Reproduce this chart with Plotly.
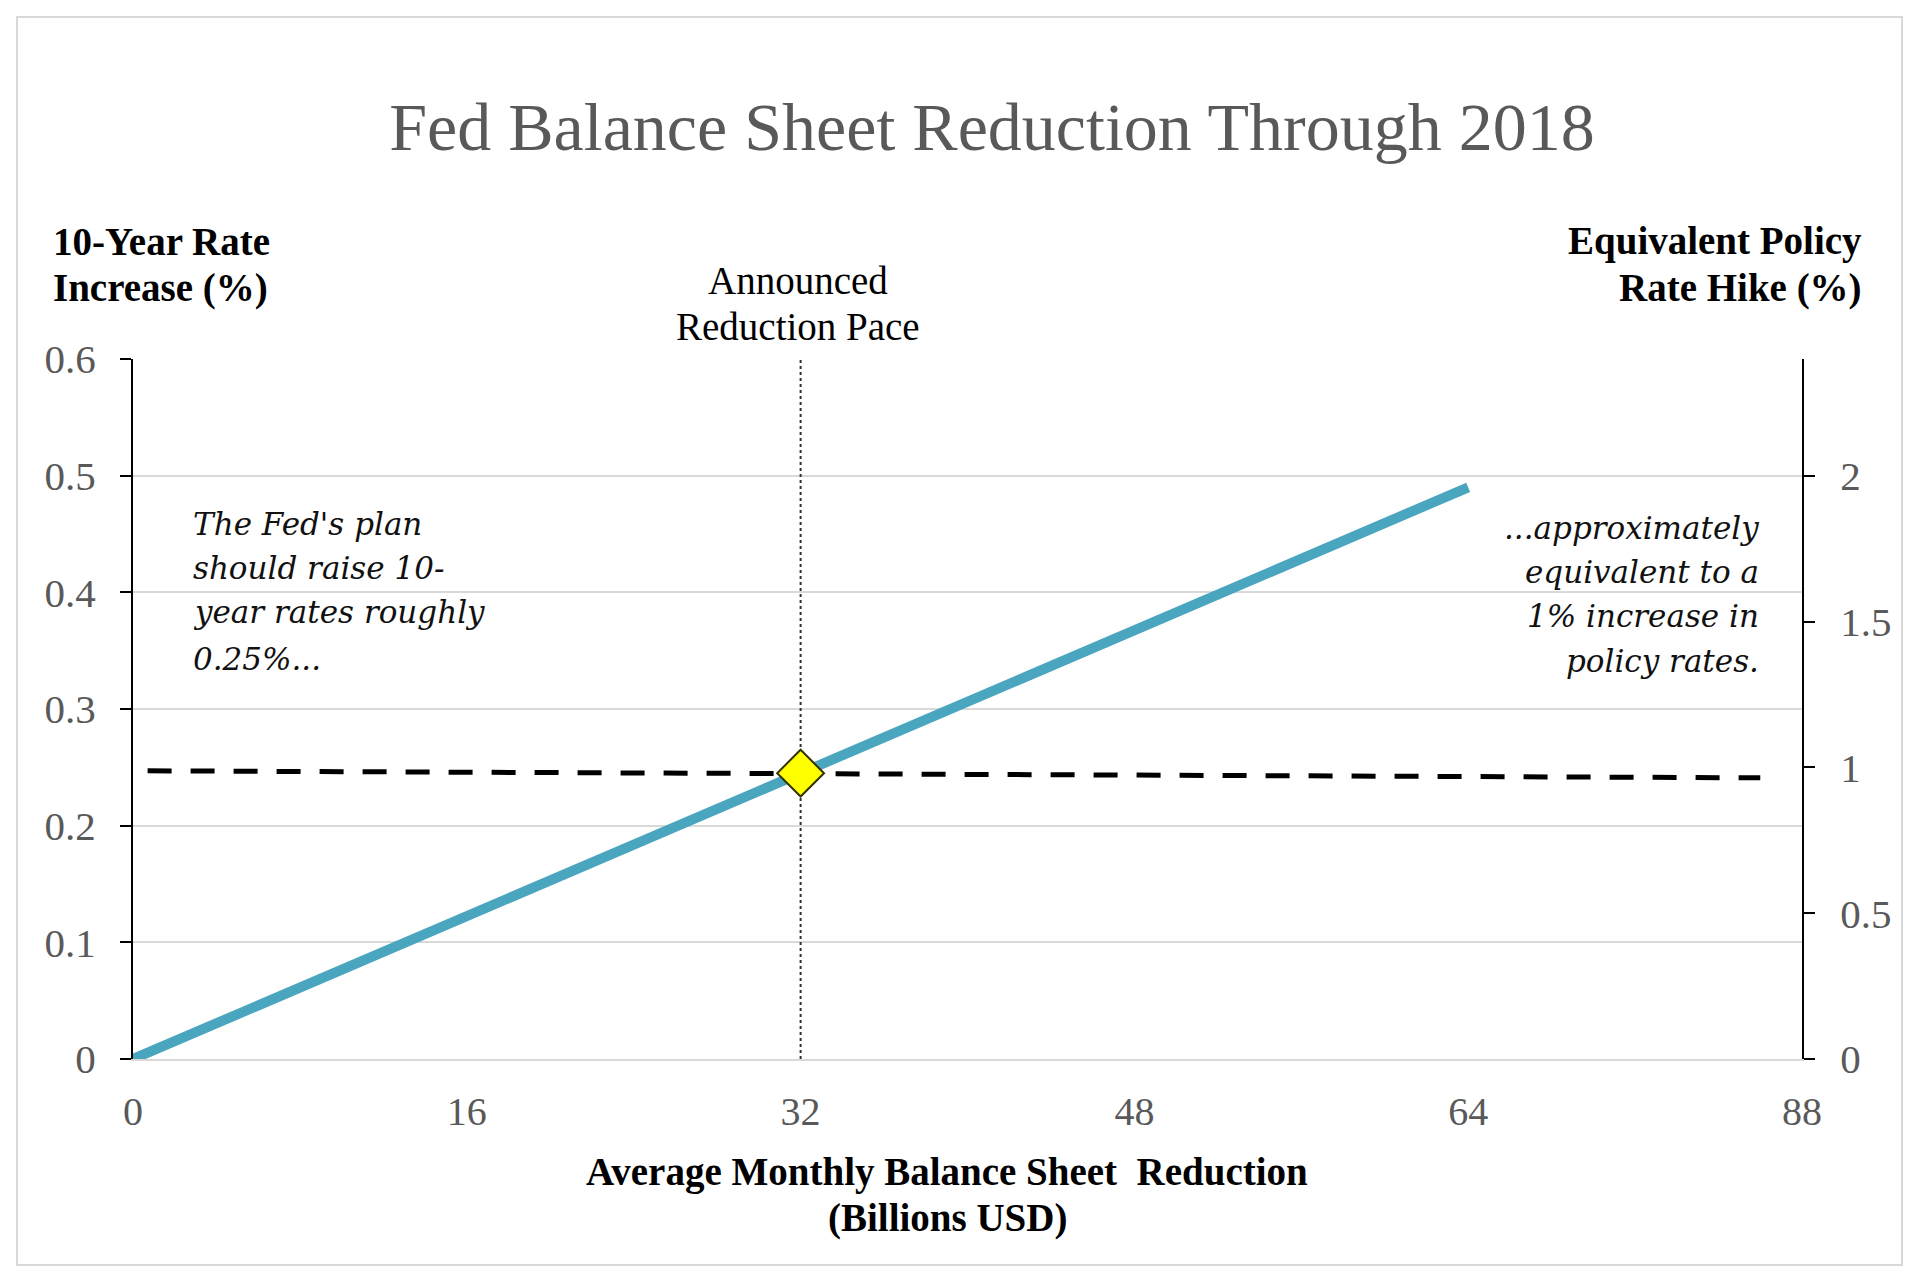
import plotly.graph_objects as go

# ---- data ----
reduction_x = [0, 32, 64]
rate_increase = [0, 0.245, 0.49]
announced_x = [32]
announced_y = [0.245]
equiv_x = [0.7, 78]
equiv_y = [0.247, 0.241]
pace_line_x = [32, 32]
pace_line_y = [0, 0.6]

x_tickvals = [0, 16, 32, 48, 64, 80]
x_ticktext = ["0", "16", "32", "48", "64", "88"]
left_tickvals = [0, 0.1, 0.2, 0.3, 0.4, 0.5, 0.6]
left_ticktext = ["0", "0.1", "0.2", "0.3", "0.4", "0.5", "0.6"]
right_tickvals = [0, 0.5, 1, 1.5, 2]
right_ticktext = ["0", "0.5", "1", "1.5", "2"]

title_text = "Fed Balance Sheet Reduction Through 2018"
left_title = ["10-Year Rate", "Increase (%)"]
right_title = ["Equivalent Policy", "Rate Hike (%)"]
x_title = ["Average Monthly Balance Sheet  Reduction", "(Billions USD)"]
pace_label = ["Announced", "Reduction Pace"]
left_note = ["The Fed's plan", "should raise 10-", "year rates roughly", "0.25%..."]
right_note = ["...approximately", "equivalent to a", "1% increase in", "policy rates."]

# ---- layout geometry (px) ----
W, H = 1920, 1280
L, R, T, B = 133, 118, 359, 221
PW, PH = W - L - R, H - T - B

def px(xp):
    return (xp - L) / PW

def py(yp):
    return (H - B - yp) / PH

SERIF = "Liberation Serif"
GREY = "#595959"

fig = go.Figure()

fig.add_trace(go.Scatter(x=pace_line_x, y=pace_line_y, mode="lines",
                         line=dict(color="#303030", width=2, dash="3px,3px"),
                         hoverinfo="skip", showlegend=False))
fig.add_trace(go.Scatter(x=equiv_x, y=equiv_y, mode="lines",
                         line=dict(color="black", width=5, dash="24px,19px"),
                         hoverinfo="skip", showlegend=False))
fig.add_trace(go.Scatter(x=reduction_x, y=rate_increase, mode="lines",
                         line=dict(color="#4AA6BF", width=10),
                         showlegend=False))
fig.add_trace(go.Scatter(x=announced_x, y=announced_y, mode="markers",
                         marker=dict(symbol="diamond", size=36, color="#FFFF00",
                                     line=dict(color="#333300", width=2)),
                         showlegend=False))
# invisible trace to activate secondary axis
fig.add_trace(go.Scatter(x=[0], y=[0], yaxis="y2", mode="markers",
                         marker=dict(opacity=0), hoverinfo="skip", showlegend=False))

annotations = []

def add_lines(lines, ys, x, anchor, font):
    for txt, yy in zip(lines, ys):
        annotations.append(dict(text=txt, xref="paper", yref="paper", x=px(x), y=py(yy),
                                xanchor=anchor, yanchor="middle", showarrow=False,
                                font=font))

bold_font = dict(family=SERIF, size=39, color="black", weight="bold")
add_lines(left_title, [241, 288], 51, "left", bold_font)
add_lines(right_title, [241, 288], 1864, "right", bold_font)
add_lines(x_title, [1172, 1218], 947, "center", bold_font)
add_lines(pace_label, [280, 327], 798, "center", dict(family=SERIF, size=39, color="black"))

note_font = dict(family="DejaVu Serif", size=31, color="#111111", style="italic")
add_lines(left_note, [524, 568, 612, 659], 191, "left", note_font)
add_lines(right_note, [528, 572, 616, 661], 1761, "right", note_font)

fig.update_layout(
    width=W, height=H,
    margin=dict(l=L, r=R, t=T, b=B, pad=0),
    paper_bgcolor="white", plot_bgcolor="white",
    title=dict(text=title_text, xref="container", yref="container",
               x=992 / W, y=1 - 126 / H, xanchor="center", yanchor="middle",
               font=dict(family=SERIF, size=68, color=GREY)),
    xaxis=dict(range=[0, 80], tickvals=x_tickvals, ticktext=x_ticktext,
               showgrid=False, zeroline=False, showline=True, linecolor="#D9D9D9",
               linewidth=2, ticks="", ticklabelstandoff=16,
               tickfont=dict(family=SERIF, size=40, color=GREY)),
    yaxis=dict(range=[0, 0.6], tickvals=left_tickvals, ticktext=left_ticktext,
               showgrid=True, gridcolor="#D9D9D9", gridwidth=2, zeroline=False,
               showline=True, linecolor="black", linewidth=2,
               ticks="outside", ticklen=11, tickwidth=2, tickcolor="black",
               ticklabelstandoff=16,
               tickfont=dict(family=SERIF, size=41, color=GREY)),
    yaxis2=dict(range=[0, 2.4], tickvals=right_tickvals, ticktext=right_ticktext,
                overlaying="y", side="right", showgrid=False, zeroline=False,
                showline=True, linecolor="black", linewidth=2,
                ticks="outside", ticklen=11, tickwidth=2, tickcolor="black",
                ticklabelstandoff=17,
                tickfont=dict(family=SERIF, size=41, color=GREY)),
    annotations=annotations,
    shapes=[dict(type="rect", xref="paper", yref="paper",
                 x0=px(17), x1=px(1902), y0=py(1265), y1=py(17),
                 line=dict(color="#D9D9D9", width=2), fillcolor="rgba(0,0,0,0)",
                 layer="below")],
)

fig.write_html("out.html", config={"displayModeBar": False})
